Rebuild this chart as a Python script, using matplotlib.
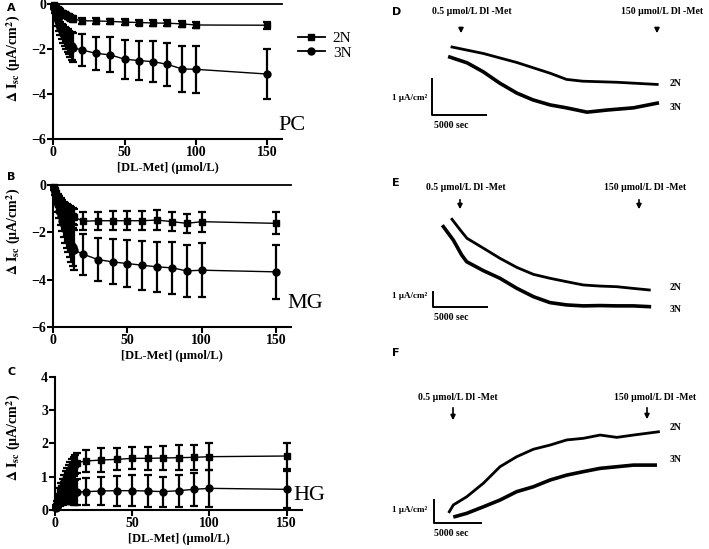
import matplotlib
matplotlib.use("Agg")
from matplotlib import pyplot as plt
from matplotlib.lines import Line2D

plt.rcParams["font.family"] = ["Liberation Serif", "DejaVu Serif"]
plt.rcParams["mathtext.fontset"] = "stix"

W, H = 709, 549

# concentration-response data (panels A-C)
conc = [0.5, 1, 2, 3, 4, 5, 6, 7, 8, 9, 10, 11, 12, 13, 14,
        20, 30, 40, 50, 60, 70, 80, 90, 100, 150]

A_2N = [-0.04, -0.08, -0.15, -0.21, -0.27, -0.32, -0.37, -0.41, -0.45, -0.49, -0.53, -0.56, -0.60, -0.63, -0.66,
        -0.73, -0.74, -0.76, -0.79, -0.81, -0.83, -0.84, -0.87, -0.92, -0.93]
A_2N_err = [0.02, 0.03, 0.04, 0.05, 0.06, 0.07, 0.08, 0.09, 0.10, 0.10, 0.11, 0.11, 0.12, 0.12, 0.12,
            0.13, 0.12, 0.12, 0.12, 0.12, 0.13, 0.13, 0.13, 0.14, 0.15]
A_3N = [-0.15, -0.30, -0.55, -0.75, -0.92, -1.07, -1.20, -1.32, -1.43, -1.53, -1.62, -1.70, -1.78, -1.86, -1.93,
        -2.03, -2.18, -2.25, -2.44, -2.50, -2.55, -2.67, -2.87, -2.89, -3.10]
A_3N_err = [0.05, 0.08, 0.14, 0.20, 0.25, 0.30, 0.34, 0.38, 0.42, 0.46, 0.50, 0.53, 0.57, 0.61, 0.65,
            0.70, 0.74, 0.78, 0.86, 0.87, 0.92, 0.97, 1.02, 1.04, 1.10]

B_2N = [-0.10, -0.20, -0.35, -0.50, -0.62, -0.73, -0.83, -0.92, -1.00, -1.07, -1.13, -1.19, -1.25, -1.30, -1.35,
        -1.53, -1.51, -1.51, -1.51, -1.51, -1.48, -1.55, -1.62, -1.55, -1.62]
B_2N_err = [0.05, 0.07, 0.10, 0.13, 0.15, 0.18, 0.20, 0.22, 0.24, 0.26, 0.28, 0.30, 0.32, 0.34, 0.35,
            0.37, 0.38, 0.40, 0.40, 0.40, 0.42, 0.40, 0.40, 0.42, 0.47]
B_3N = [-0.15, -0.30, -0.60, -0.85, -1.08, -1.30, -1.50, -1.70, -1.88, -2.05, -2.20, -2.35, -2.50, -2.62, -2.75,
        -2.92, -3.15, -3.25, -3.32, -3.39, -3.46, -3.50, -3.63, -3.60, -3.67]
B_3N_err = [0.08, 0.12, 0.20, 0.27, 0.33, 0.39, 0.45, 0.50, 0.55, 0.60, 0.65, 0.70, 0.75, 0.80, 0.85,
            0.87, 0.90, 0.95, 1.00, 1.04, 1.06, 1.10, 1.10, 1.13, 1.13]

C_2N = [0.10, 0.20, 0.38, 0.53, 0.66, 0.78, 0.88, 0.97, 1.05, 1.12, 1.19, 1.25, 1.31, 1.37, 1.42,
        1.47, 1.50, 1.52, 1.55, 1.55, 1.56, 1.57, 1.58, 1.60, 1.62]
C_2N_err = [0.05, 0.07, 0.10, 0.12, 0.14, 0.16, 0.18, 0.20, 0.22, 0.24, 0.25, 0.27, 0.28, 0.29, 0.30,
            0.33, 0.35, 0.33, 0.33, 0.35, 0.35, 0.37, 0.37, 0.40, 0.40]
C_3N = [0.05, 0.10, 0.18, 0.25, 0.30, 0.35, 0.39, 0.42, 0.45, 0.47, 0.49, 0.51, 0.52, 0.53, 0.54,
        0.55, 0.57, 0.58, 0.58, 0.57, 0.55, 0.58, 0.62, 0.65, 0.62]
C_3N_err = [0.05, 0.07, 0.10, 0.13, 0.16, 0.19, 0.22, 0.25, 0.27, 0.30, 0.32, 0.34, 0.36, 0.38, 0.40,
            0.40, 0.42, 0.45, 0.47, 0.47, 0.45, 0.48, 0.50, 0.55, 0.55]

# Ussing chamber traces (panels D-F): time in s, change in Isc in uA/cm2
D_t_2N = [0, 2900, 6000, 9100, 10600, 12100, 15300, 19000]
D_i_2N = [0.0, -0.18, -0.43, -0.73, -0.90, -0.95, -0.98, -1.04]
D_t_3N = [-200, 1400, 2900, 4400, 6000, 7500, 9100, 10600, 12500, 14400, 16800, 19000]
D_i_3N = [-0.28, -0.44, -0.69, -1.00, -1.28, -1.47, -1.61, -1.69, -1.81, -1.75, -1.69, -1.56]

E_t_2N = [0, 770, 1390, 2930, 4440, 5990, 7540, 9070, 10620, 12160, 13700, 15250, 16790, 18270]
E_i_2N = [0.0, -0.69, -1.22, -1.86, -2.50, -3.08, -3.53, -3.78, -4.00, -4.21, -4.28, -4.32, -4.43, -4.53]
E_t_3N = [-800, 120, 900, 1360, 2900, 4440, 5990, 7540, 9070, 10620, 12160, 13700, 15250, 16790, 18270]
E_i_3N = [-0.47, -1.33, -2.29, -2.72, -3.29, -3.78, -4.42, -4.96, -5.34, -5.49, -5.55, -5.53, -5.55, -5.55, -5.60]

F_t_2N = [0, 430, 1850, 3620, 5390, 7170, 8940, 10720, 12490, 14270, 16040, 17820, 19590, 22250]
F_i_2N = [0.0, 0.29, 0.64, 1.22, 1.93, 2.36, 2.68, 2.86, 3.08, 3.15, 3.29, 3.19, 3.29, 3.43]
F_t_3N = [610, 1850, 3620, 5390, 7170, 8940, 10720, 12490, 14270, 16040, 17820, 19590, 21900]
F_i_3N = [-0.21, -0.07, 0.21, 0.50, 0.86, 1.07, 1.36, 1.57, 1.72, 1.86, 1.93, 2.00, 2.00]

fig = plt.figure(figsize=(W / 100, H / 100), dpi=100)


def box(left, top, right, bottom):
    return [left / W, 1 - bottom / H, (right - left) / W, (bottom - top) / H]


def fpos(x, y):
    return (x / W, 1 - y / H)


def dose_panel(rect, y2, e2, y3, e3, ylim, yticks, tag, tag_xy, letter, letter_xy, label_y):
    ax = fig.add_axes(box(*rect))
    ax.errorbar(conc, y2, yerr=e2, fmt="s-", color="k", ms=5, lw=1, elinewidth=1.6,
                capsize=3, capthick=1.6, clip_on=False)
    ax.errorbar(conc, y3, yerr=e3, fmt="o-", color="k", ms=5, lw=1, elinewidth=1.6,
                capsize=3, capthick=1.6, clip_on=False)
    ax.set_xlim(0, 160)
    ax.set_ylim(*ylim)
    ax.set_xticks([0, 50, 100, 150])
    ax.set_yticks(yticks)
    ax.set_yticklabels([str(v).replace("-", "\u2212") for v in yticks])
    for s in ["top", "right"]:
        ax.spines[s].set_visible(False)
    for s in ["left", "bottom"]:
        ax.spines[s].set_linewidth(1.5)
    if ylim[1] == 0:
        ax.axhline(0, color="k", lw=1.3, clip_on=False)
    ax.tick_params(direction="out", length=4, width=1.5, labelsize=10, pad=1)
    for lab in ax.get_xticklabels() + ax.get_yticklabels():
        lab.set_fontweight("bold")
    ax.set_xlabel("[DL-Met] (\u00b5mol/L)", fontsize=9, fontweight="bold", labelpad=2)
    ax.set_ylabel("$\\mathbf{\\Delta\\ I_{sc}}$ (\u00b5A/cm$^\\mathbf{2}$)", fontsize=10,
                  fontweight="bold")
    ax.yaxis.set_label_coords((23 - rect[0]) / (rect[2] - rect[0]),
                              (rect[3] - label_y) / (rect[3] - rect[1]))
    fig.text(*fpos(*tag_xy), tag, fontsize=16, va="center", ha="left")
    fig.text(*fpos(*letter_xy), letter, fontsize=8, fontweight="bold", family="DejaVu Sans",
             va="center", ha="left")
    return ax


axA = dose_panel((53.3, 4.3, 281.6, 139.3), A_2N, A_2N_err, A_3N, A_3N_err, (-6, 0), [-6, -4, -2, 0],
                 "PC", (278, 125), "A", (7, 8), 58)
handles = [Line2D([], [], color="k", marker="s", ms=5, lw=1.3),
           Line2D([], [], color="k", marker="o", ms=5, lw=1.3)]
axA.legend(handles, ["2N", "3N"], loc="upper left", bbox_to_anchor=fpos(290, 24),
           bbox_transform=fig.transFigure, frameon=False, fontsize=11, handlelength=1.8,
           handletextpad=0.5, labelspacing=0.05, borderpad=0)
dose_panel((53.3, 185, 290.7, 327), B_2N, B_2N_err, B_3N, B_3N_err, (-6, 0), [-6, -4, -2, 0],
           "MG", (287, 303), "B", (7, 177), 231)
dose_panel((55, 376.7, 302, 510), C_2N, C_2N_err, C_3N, C_3N_err, (0, 4), [0, 1, 2, 3, 4],
           "HG", (293, 495), "C", (7, 372), 437)


def trace_panel(top, bottom, t0, i0, pps, ppu, t2, i2, t3, i3, bar, arrows, text_y, text_x,
                name_y, unit_y, letter, letter_y):
    ax = fig.add_axes(box(400, top, 709, bottom))
    ax.set_xlim((400 - t0) / pps, (709 - t0) / pps)
    ax.set_ylim(-(bottom - i0) / ppu, -(top - i0) / ppu)
    ax.axis("off")
    ax.plot(t2, i2, color="k", lw=2.0, solid_joinstyle="round")
    ax.plot(t3, i3, color="k", lw=2.6, solid_joinstyle="round")
    bx, by = bar
    ax.plot([bx, bx, bx + 5000], [by + 1, by, by], color="k", lw=1.4)
    for (xa, y_from, y_to), xt, txt in zip(arrows, text_x,
                                          ["0.5 \u00b5mol/L Dl -Met", "150 \u00b5mol/L Dl -Met"]):
        fig.text(*fpos(xt, text_y), txt, fontsize=7, fontweight="bold", ha="center", va="center")
        ax.annotate("", xy=fpos(xa, y_to), xycoords="figure fraction",
                    xytext=fpos(xa, y_from), textcoords="figure fraction",
                    arrowprops=dict(arrowstyle="-|>", color="k", lw=1.2, mutation_scale=7))
    fig.text(*fpos(670, name_y[0]), "2N", fontsize=7, fontweight="bold", va="center")
    fig.text(*fpos(670, name_y[1]), "3N", fontsize=7, fontweight="bold", va="center")
    fig.text(*fpos(427, unit_y[0]), "1 \u00b5A/cm\u00b2", fontsize=6.5, fontweight="bold",
             ha="right", va="center")
    fig.text(*fpos(434, unit_y[1]), "5000 sec", fontsize=7, fontweight="bold", ha="left", va="center")
    fig.text(*fpos(392, letter_y), letter, fontsize=8, fontweight="bold", family="DejaVu Sans",
             va="center")


trace_panel(0, 175, 452, 47, 54 / 5000, 36, D_t_2N, D_i_2N, D_t_3N, D_i_3N, (-1850, -1.89),
            [(461, 26, 36), (657, 26, 36)], 12, (472, 662), (84, 108), (98, 126), "D", 12)
trace_panel(175, 360, 452, 219.3, 54 / 5000, 15.6, E_t_2N, E_i_2N, E_t_3N, E_i_3N, (-1760, -5.64),
            [(460, 197, 212), (639, 197, 212)], 187, (466, 645), (288, 309), (296, 317), "E", 183)
trace_panel(360, 549, 449.3, 511.7, 47 / 5000, 23.3, F_t_2N, F_i_2N, F_t_3N, F_i_3N, (-1600, -0.50),
            [(453, 405, 423), (647, 405, 422)], 398, (458, 655), (427, 459), (510, 533), "F", 353)

fig.savefig("out.png", dpi=100)
